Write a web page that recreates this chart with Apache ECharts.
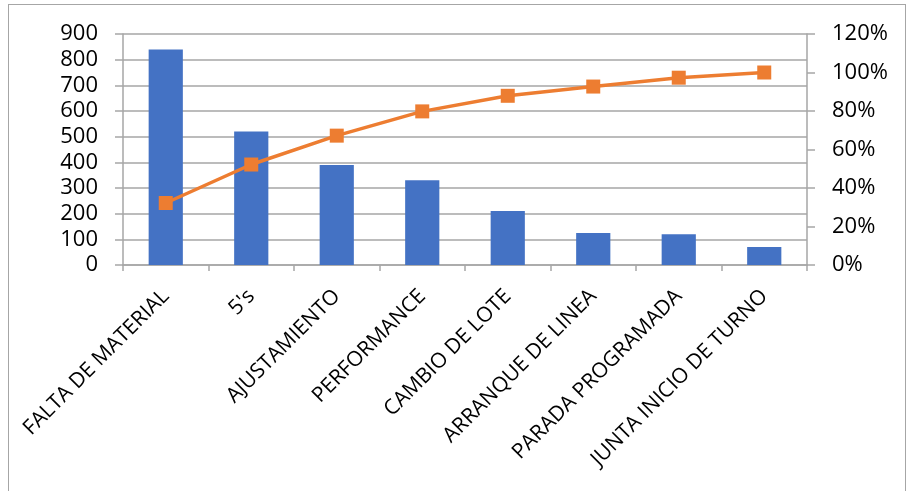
<!DOCTYPE html>
<html>
<head>
<meta charset="utf-8">
<script src="https://cdn.jsdelivr.net/npm/echarts@6/dist/echarts.min.js"></script>
<style>
html,body{margin:0;padding:0;background:#fff;}
#frame{position:absolute;left:8px;top:4px;width:898px;height:500px;border:1px solid #a6a6a6;box-sizing:border-box;}
#chart{position:absolute;left:0;top:0;width:909px;height:491px;}
</style>
</head>
<body>
<div id="frame"></div>
<div id="chart"></div>
<script>
const categories = ['FALTA DE MATERIAL', "5's", 'AJUSTAMIENTO', 'PERFORMANCE', 'CAMBIO DE LOTE', 'ARRANQUE DE LINEA', 'PARADA PROGRAMADA', 'JUNTA INICIO DE TURNO'];
const counts = [840, 520, 390, 330, 210, 125, 120, 70];
const cumulativePct = [32.2, 52.2, 67.2, 79.8, 87.9, 92.7, 97.3, 100];

const FONT = 'Open Sans';
const chart = echarts.init(document.getElementById('chart'), null, {renderer: 'canvas'});
chart.setOption({
  animation: false,
  backgroundColor: 'transparent',
  grid: {left: 123, right: 102, top: 34, bottom: 226, containLabel: false},
  xAxis: {
    type: 'category',
    data: categories,
    axisLine: {lineStyle: {color: '#a6a6a6', width: 1.5}},
    axisTick: {show: true, alignWithLabel: false, length: 6, lineStyle: {color: '#a6a6a6', width: 1.5}},
    axisLabel: {rotate: 45, interval: 0, fontFamily: FONT, fontSize: 21, color: '#000', margin: 28}
  },
  yAxis: [
    {
      type: 'value', min: 0, max: 900, interval: 100,
      axisLine: {show: true, lineStyle: {color: '#a6a6a6', width: 1.5}},
      axisTick: {show: true, length: 8, lineStyle: {color: '#a6a6a6', width: 1.5}},
      splitLine: {show: true, lineStyle: {color: '#a6a6a6', width: 1.5}},
      axisLabel: {fontFamily: FONT, fontSize: 22, color: '#000', margin: 25}
    },
    {
      type: 'value', min: 0, max: 120, interval: 20,
      axisLine: {show: true, lineStyle: {color: '#a6a6a6', width: 1.5}},
      axisTick: {show: true, length: 8, lineStyle: {color: '#a6a6a6', width: 1.5}},
      splitLine: {show: false},
      axisLabel: {fontFamily: FONT, fontSize: 22, color: '#000', margin: 25, formatter: '{value}%'}
    }
  ],
  series: [
    {
      type: 'bar', data: counts, yAxisIndex: 0, barWidth: '40%',
      itemStyle: {color: '#4472C4'}
    },
    {
      type: 'line', data: cumulativePct, yAxisIndex: 1,
      symbol: 'rect', symbolSize: 14,
      lineStyle: {color: '#ED7D31', width: 3.5},
      itemStyle: {color: '#ED7D31'}
    }
  ]
});
</script>
</body>
</html>
